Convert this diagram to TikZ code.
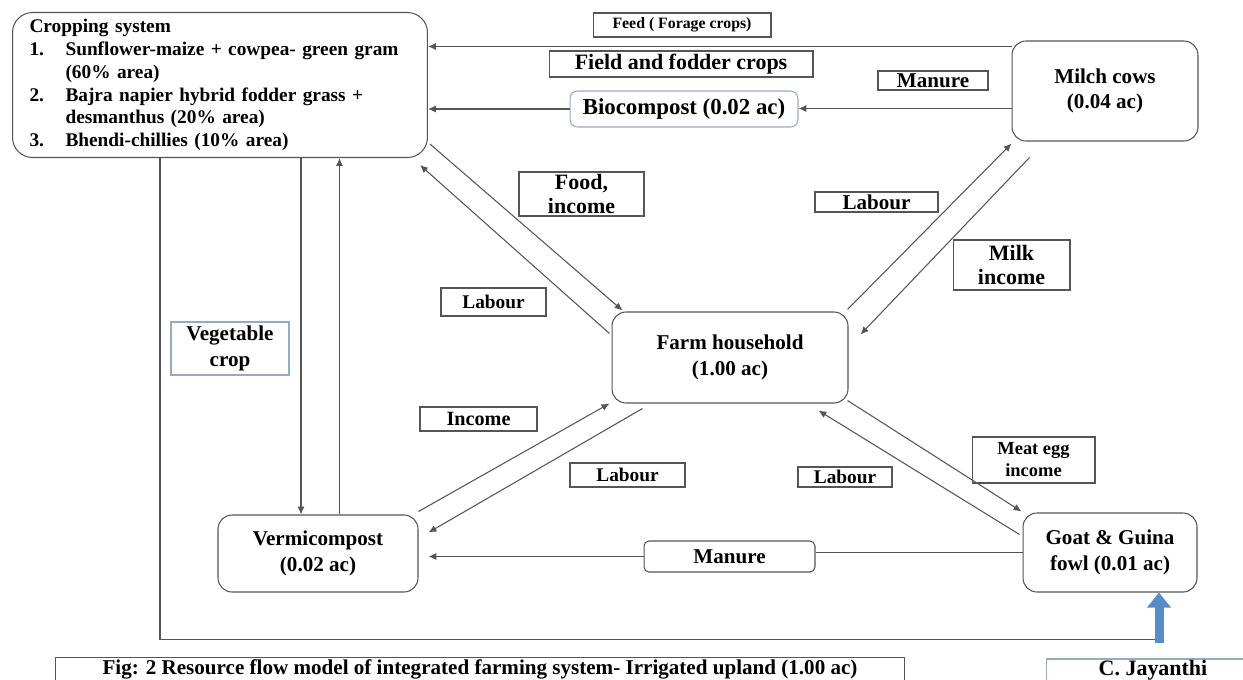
\documentclass[tikz,border=0pt]{standalone}
\usepackage{fontspec}
\setmainfont{Liberation Serif}
\usetikzlibrary{arrows.meta,calc}
\definecolor{E}{RGB}{85,85,85}
\definecolor{L}{RGB}{150,170,195}
\definecolor{B}{RGB}{86,140,200}

\tikzset{
  unit/.style={draw=E, line width=0.6pt, rounded corners=0.28cm, align=center, inner sep=0pt,
    font=\bfseries\fontsize{12}{14.5}\selectfont},
  tag/.style={draw=E, line width=0.6pt, align=center, inner sep=0pt,
    font=\bfseries\fontsize{11}{13}\selectfont},
  flow/.style={draw=E, line width=0.6pt, -{Latex[length=4.5pt,width=4pt]}},
  plain/.style={draw=E, line width=0.6pt}
}

\begin{document}
\begin{tikzpicture}[x=0.02cm, y=-0.02cm]
  \useasboundingbox (0,0) rectangle (1243,679);

  % cropping system (top left)
  \node[unit, rounded corners=0.4cm, anchor=north west, align=left, text width=7.62cm,
    inner xsep=0.34cm, minimum height=2.9cm, font=\bfseries\fontsize{11}{13}\selectfont] (crop) at (12,12)
    {Cropping system\\
     \makebox[0.72cm][l]{1.}Sunflower-maize + cowpea- green gram\\
     \hspace*{0.72cm}(60\% area)\\
     \makebox[0.72cm][l]{2.}Bajra napier hybrid fodder grass +\\
     \hspace*{0.72cm}desmanthus (20\% area)\\
     \makebox[0.72cm][l]{3.}Bhendi-chillies (10\% area)};

  % top labels
  \node[tag, minimum width=3.56cm, minimum height=0.48cm, font=\bfseries\fontsize{9}{11}\selectfont] (feed) at (682,25) {Feed ( Forage crops)};
  \node[tag, minimum width=5.28cm, minimum height=0.52cm, font=\bfseries\fontsize{12.5}{15}\selectfont] (field) at (681,64) {Field and fodder crops};
  \node[unit, draw=L, rounded corners=0.15cm, minimum width=4.56cm, minimum height=0.72cm,
    font=\bfseries\fontsize{13}{15}\selectfont] (bio) at (684,109) {Biocompost (0.02 ac)};
  \node[tag, minimum width=2.2cm, minimum height=0.38cm, font=\bfseries\fontsize{12}{14}\selectfont] (manureA) at (933,80.5) {Manure};

  % milch cows
  \node[unit, minimum width=3.72cm, minimum height=2cm] (milch) at (1105,91) {Milch cows\\(0.04 ac)};
  \node[tag, minimum width=2.46cm, minimum height=0.4cm, font=\bfseries\fontsize{12}{14}\selectfont] (labourA) at (876.5,202) {Labour};
  \node[tag, minimum width=2.34cm, minimum height=1cm, font=\bfseries\fontsize{12.5}{14}\selectfont] (milk) at (1011.5,265) {Milk\\income};

  % farm household and its labels
  \node[tag, minimum width=2.5cm, minimum height=0.88cm, font=\bfseries\fontsize{12.5}{14}\selectfont] (food) at (581.5,194) {Food,\\income};
  \node[tag, minimum width=2.1cm, minimum height=0.56cm] (labourB) at (493.5,302) {Labour};
  \node[unit, minimum width=4.72cm, minimum height=1.82cm] (farm) at (730,357.5) {Farm household\\(1.00 ac)};
  \node[tag, draw=L, minimum width=2.36cm, minimum height=1.06cm, font=\bfseries\fontsize{12}{14.5}\selectfont] (veg) at (230,348.5) {Vegetable\\crop};
  \node[tag, minimum width=2.34cm, minimum height=0.48cm, font=\bfseries\fontsize{11.5}{13}\selectfont] (income) at (478.5,419) {Income};
  \node[tag, minimum width=2.3cm, minimum height=0.48cm] (labourC) at (627.5,475) {Labour};
  \node[tag, minimum width=1.88cm, minimum height=0.4cm] (labourD) at (845,477) {Labour};
  \node[tag, minimum width=2.46cm, minimum height=0.92cm, font=\bfseries\fontsize{10.5}{12.5}\selectfont] (meat) at (1033.5,460) {Meat egg\\income};

  % bottom row
  \node[unit, minimum width=4cm, minimum height=1.54cm] (vermi) at (318,553.5) {Vermicompost\\(0.02 ac)};
  \node[unit, rounded corners=0.1cm, minimum width=3.42cm, minimum height=0.62cm] (manureB) at (729.5,556.5) {Manure};
  \node[unit, minimum width=3.48cm, minimum height=1.58cm] (goat) at (1110,552.5) {Goat \& Guina\\fowl (0.01 ac)};

  \node[tag, line width=0.5pt, minimum width=17cm, minimum height=0.48cm, font=\bfseries\fontsize{12}{14}\selectfont] (caption) at (480,669)
    {Fig: 2 Resource flow model of integrated farming system- Irrigated upland (1.00 ac)};
  \node[tag, draw=L, minimum width=4.26cm, minimum height=0.44cm, font=\bfseries\fontsize{12.5}{15}\selectfont] (author) at (1153,670) {C. Jayanthi};

  % flows at the top
  \coordinate (feedR) at ($(milch.north west)+(0,6)$);
  \draw[flow] (feedR) -- (feedR -| crop.east);
  \coordinate (manR) at ($(milch.south west)+(0,-33)$);
  \draw[flow] (manR) -- (manR -| bio.east);
  \draw[flow] (bio.west) -- (bio.west -| crop.east);

  % farm <-> milch cows
  \draw[flow] ($(farm.north east)+(-1,-2)$) -- ($(milch.south west)+(0,2)$);
  \draw[flow] ($(milch.south west)+(18,16)$) -- ($(farm.north east)+(12,23)$);

  % farm <-> cropping system
  \draw[flow] ($(crop.south east)+(2,-14)$) -- ($(farm.north west)+(11,-1)$);
  \draw[flow] ($(farm.north west)+(-2,22)$) -- ($(crop.south east)+(-8,7)$);

  % cropping system <-> vermicompost
  \coordinate (vegL) at ($(crop.south west)+(289,0)$);
  \draw[flow] (vegL) -- (vegL |- vermi.north);
  \coordinate (vegR) at ($(vermi.north west)+(122,0)$);
  \draw[flow] (vegR) -- (vegR |- crop.south);

  % farm <-> vermicompost
  \draw[flow] ($(vermi.north east)+(0,-3)$) -- ($(farm.south west)+(-2,0)$);
  \draw[flow] ($(farm.south west)+(31,5)$) -- ($(vermi.north east)+(10,18)$);

  % farm <-> goat
  \draw[flow] ($(farm.south east)+(-1,-3)$) -- ($(goat.north west)+(-1,-1)$);
  \draw[flow] ($(goat.north west)+(-3,22)$) -- ($(farm.south east)+(-30,7)$);

  % manure to vermicompost
  \draw[plain] (goat.west) -- (goat.west -| manureB.east);
  \draw[flow, shorten >=0.2cm] (manureB.west) -- (manureB.west -| vermi.east);

  % loop round the bottom
  \coordinate (loopS) at ($(crop.south west)+(148,0)$);
  \coordinate (jayA) at ($(goat.south)+(49,50)$);
  \draw[plain] (loopS) |- ($(jayA)+(0,-3)$);
  \draw[line width=0.18cm, B, -{Triangle[width=0.46cm,length=0.3cm]}] (jayA) -- (jayA |- goat.south);
\end{tikzpicture}
\end{document}
